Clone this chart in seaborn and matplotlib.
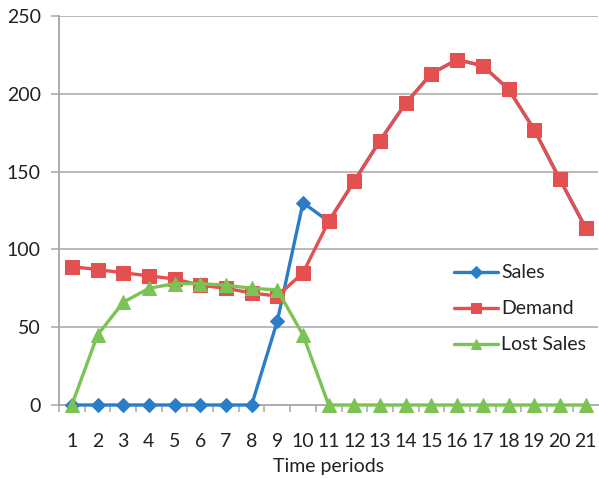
import numpy as np
import pandas as pd
import matplotlib
matplotlib.use("Agg")
import matplotlib.pyplot as plt
import seaborn as sns

periods = list(range(1, 22))
sales = [0, 0, 0, 0, 0, 0, 0, 0, 54, 130, 118, 144, 170, 194, 213, 222, 218, 203, 177, 145, 114]
demand = [89, 87, 85, 83, 81, 77, 75, 72, 70, 85, 118, 144, 170, 194, 213, 222, 218, 203, 177, 145, 114]
lost_sales = [0, 45, 66, 75, 78, 78, 77, 75, 74, 45, 0, 0, 0, 0, 0, 0, 0, 0, 0, 0, 0]
series_names = ["Sales", "Demand", "Lost Sales"]
y_ticks = [0, 50, 100, 150, 200, 250]

sns.set_theme(style="white")
plt.rcParams["font.family"] = ["Lato", "DejaVu Sans"]

df = pd.DataFrame({
    "period": periods * 3,
    "value": sales + demand + lost_sales,
    "series": [series_names[0]] * 21 + [series_names[1]] * 21 + [series_names[2]] * 21,
})

colors = {"Sales": "#2a7dc6", "Demand": "#e3504f", "Lost Sales": "#7cc355"}
markers = {"Sales": "D", "Demand": "s", "Lost Sales": "^"}
msizes = {"Sales": 7.5, "Demand": 10, "Lost Sales": 10}

fig = plt.figure(figsize=(5.99, 4.79), dpi=100)
ax = fig.add_axes([0.0985, 0.1545, 0.9005, 0.812])

for name in series_names:
    sub = df[df["series"] == name]
    sns.lineplot(data=sub, x="period", y="value", ax=ax, color=colors[name],
                 marker=markers[name], markersize=msizes[name],
                 markeredgecolor=colors[name], linewidth=2.4, label=name,
                 clip_on=False, zorder=3)

ax.set_xlim(0.5, 21.5)
ax.set_ylim(0, 250)
ax.set_yticks(y_ticks)
ax.set_xticks(periods)
ax.set_xticks([p + 0.5 for p in range(0, 21)], minor=True)

grid_c = "#a6a6a6"
for y in y_ticks[1:]:
    ax.axhline(y, color=grid_c, linewidth=1.1, zorder=1)

for side in ["top", "right"]:
    ax.spines[side].set_visible(False)
for side in ["left", "bottom"]:
    ax.spines[side].set_color(grid_c)
    ax.spines[side].set_linewidth(1.3)

txt_c = "#222222"
ax.tick_params(axis="y", which="major", direction="out", length=6, width=1.1,
               color=grid_c, labelsize=14, labelcolor=txt_c, pad=7, left=True)
ax.tick_params(axis="x", which="major", length=0, labelsize=14,
               labelcolor=txt_c, pad=20)
ax.tick_params(axis="x", which="minor", direction="out", length=5, width=1.1,
               color=grid_c, bottom=True)

ax.set_xlabel("Time periods", fontsize=14, color=txt_c, labelpad=6)
ax.set_ylabel("")

leg = ax.legend(loc="center left", bbox_to_anchor=(0.70, 0.247), frameon=False,
                fontsize=14, handlelength=2.27, labelspacing=0.98,
                handletextpad=0.15, markerscale=0.75)
for t in leg.get_texts():
    t.set_color(txt_c)

fig.savefig("out.png", dpi=100)
